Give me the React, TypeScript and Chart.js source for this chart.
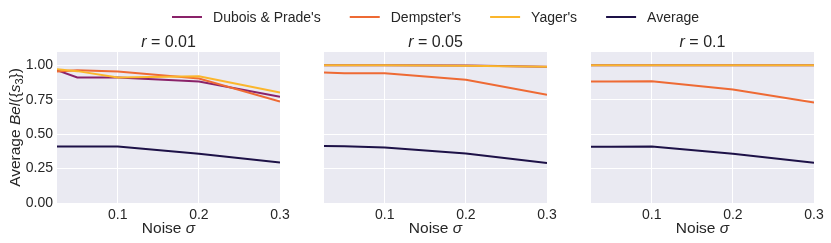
import React, { useEffect, useRef } from 'react';
import { Chart, registerables } from 'chart.js';

Chart.register(...registerables);

// ---- data ----
const noiseLevels = [0.025, 0.05, 0.1, 0.2, 0.3];
const xTickValues = [0.1, 0.2, 0.3];
const yTickValues = [0, 0.25, 0.5, 0.75, 1.0];
const seriesNames = ["Dubois & Prade's", "Dempster's", "Yager's", 'Average'];
const radiusLabels = ['0.01', '0.05', '0.1'];

const duboisR001 = [0.965, 0.912, 0.912, 0.882, 0.772];
const dempsterR001 = [0.955, 0.964, 0.955, 0.905, 0.737];
const yagerR001 = [0.972, 0.958, 0.912, 0.92, 0.802];
const averageR001 = [0.41, 0.41, 0.41, 0.358, 0.295];

const duboisR005 = [1.0, 1.0, 1.0, 0.999, 0.99];
const dempsterR005 = [0.948, 0.942, 0.942, 0.895, 0.787];
const yagerR005 = [1.0, 1.0, 1.0, 0.998, 0.99];
const averageR005 = [0.415, 0.413, 0.404, 0.36, 0.29];

const duboisR01 = [1.0, 1.0, 1.0, 1.0, 1.0];
const dempsterR01 = [0.882, 0.882, 0.884, 0.825, 0.73];
const yagerR01 = [1.0, 1.0, 1.0, 1.0, 1.0];
const averageR01 = [0.408, 0.408, 0.41, 0.358, 0.293];

const panelSeries = [
  [duboisR001, dempsterR001, yagerR001, averageR001],
  [duboisR005, dempsterR005, yagerR005, averageR005],
  [duboisR01, dempsterR01, yagerR01, averageR01],
];

// ---- style ----
const seriesColors = ['#8a2269', '#ee6a34', '#fbb62c', '#1d1147'];
const W = 831;
const H = 243;
const FONT = '"Liberation Sans", Arial, sans-serif';
const TEXT = '#262626';
const BG = '#eaeaf2';
const plotLefts = [57, 324, 591];
const plotWidth = 223;
const plotTop = 52;
const xAxisHeight = 40;
const yAxisWidth = 40;

function drawPieces(ctx: CanvasRenderingContext2D, pieces: { t: string; f: string; dy?: number }[], cx: number, y: number) {
  let total = 0;
  const widths = pieces.map((p) => {
    ctx.font = p.f;
    const w = ctx.measureText(p.t).width;
    total += w;
    return w;
  });
  let x = cx - total / 2;
  pieces.forEach((p, i) => {
    ctx.font = p.f;
    ctx.fillText(p.t, x, y + (p.dy || 0));
    x += widths[i];
  });
}

function makeTextPlugin(idx: number) {
  return {
    id: 'texts' + idx,
    beforeDraw(chart: any) {
      const { ctx, chartArea: ca } = chart;
      ctx.save();
      ctx.fillStyle = BG;
      ctx.fillRect(ca.left, ca.top, ca.right - ca.left, ca.bottom - ca.top);
      ctx.restore();
    },
    afterDraw(chart: any) {
      const { ctx, chartArea: ca } = chart;
      const cx = (ca.left + ca.right) / 2;
      ctx.save();
      ctx.fillStyle = TEXT;
      ctx.textAlign = 'left';
      ctx.textBaseline = 'alphabetic';
      // panel title
      drawPieces(
        ctx,
        [
          { t: 'r', f: `italic 16px ${FONT}` },
          { t: ' = ' + radiusLabels[idx], f: `16px ${FONT}` },
        ],
        cx,
        47
      );
      // x axis title
      drawPieces(
        ctx,
        [
          { t: 'Noise ', f: `15.5px ${FONT}` },
          { t: 'σ', f: `italic 15.5px ${FONT}` },
        ],
        cx,
        233
      );
      if (idx === 0) {
        // y axis title
        ctx.save();
        ctx.translate(20, (ca.top + ca.bottom) / 2);
        ctx.rotate(-Math.PI / 2);
        drawPieces(
          ctx,
          [
            { t: 'Average ', f: `15.5px ${FONT}` },
            { t: 'Bel', f: `italic 15.5px ${FONT}` },
            { t: '({', f: `15.5px ${FONT}` },
            { t: 's', f: `italic 15.5px ${FONT}` },
            { t: '3', f: `11px ${FONT}`, dy: 3 },
            { t: '})', f: `15.5px ${FONT}` },
          ],
          0,
          0
        );
        ctx.restore();
        // legend
        ctx.font = `14px ${FONT}`;
        const lineLen = 30;
        const gapText = 11;
        const gapItem = 29;
        const widths = seriesNames.map((n) => ctx.measureText(n).width);
        const total = widths.reduce((a, w) => a + lineLen + gapText + w, 0) + gapItem * (seriesNames.length - 1);
        const center = (plotLefts[0] + plotLefts[2] + plotWidth) / 2;
        let x = center - total / 2;
        const ly = 17;
        ctx.textBaseline = 'middle';
        seriesNames.forEach((n, i) => {
          ctx.strokeStyle = seriesColors[i];
          ctx.lineWidth = 2;
          ctx.beginPath();
          ctx.moveTo(x, ly);
          ctx.lineTo(x + lineLen, ly);
          ctx.stroke();
          ctx.fillStyle = TEXT;
          ctx.fillText(n, x + lineLen + gapText, ly + 1);
          x += lineLen + gapText + widths[i] + gapItem;
        });
      }
      ctx.restore();
    },
  };
}

function Panel({ idx }: { idx: number }) {
  const ref = useRef<HTMLCanvasElement>(null);
  useEffect(() => {
    if (!ref.current) return;
    const left = plotLefts[idx];
    const showY = idx === 0;
    const chart = new Chart(ref.current, {
      type: 'line',
      data: {
        datasets: seriesNames.map((name, s) => ({
          label: name,
          data: noiseLevels.map((x, k) => ({ x, y: panelSeries[idx][s][k] })),
          borderColor: seriesColors[s],
          backgroundColor: seriesColors[s],
          borderWidth: 2,
          pointRadius: 0,
          tension: 0,
          fill: false,
          order: seriesNames.length - s,
        })),
      },
      options: {
        animation: false,
        responsive: false,
        maintainAspectRatio: false,
        events: [],
        layout: {
          padding: {
            left: showY ? left - yAxisWidth : left,
            right: W - left - plotWidth,
            top: plotTop,
            bottom: 0,
          },
        },
        plugins: {
          legend: { display: false },
          tooltip: { enabled: false },
          title: { display: false },
        },
        scales: {
          x: {
            type: 'linear',
            min: noiseLevels[0],
            max: 0.3,
            afterBuildTicks: (s: any) => {
              s.ticks = xTickValues.map((v) => ({ value: v }));
            },
            afterFit: (s: any) => {
              s.height = xAxisHeight;
            },
            grid: { color: '#ffffff', lineWidth: 1, drawTicks: false },
            border: { display: false },
            ticks: {
              color: TEXT,
              font: { family: FONT, size: 14 },
              padding: 4,
              maxRotation: 0,
              autoSkip: false,
              callback: (v: any) => Number(v).toFixed(1),
            },
          },
          y: {
            type: 'linear',
            min: 0,
            max: 1.097,
            afterBuildTicks: (s: any) => {
              s.ticks = yTickValues.map((v) => ({ value: v }));
            },
            afterFit: (s: any) => {
              s.width = showY ? yAxisWidth : 0;
            },
            grid: { color: '#ffffff', lineWidth: 1, drawTicks: false },
            border: { display: false },
            ticks: {
              display: showY,
              color: TEXT,
              font: { family: FONT, size: 14 },
              padding: 4,
              autoSkip: false,
              callback: (v: any) => Number(v).toFixed(2),
            },
          },
        },
      },
      plugins: [makeTextPlugin(idx)],
    } as any);
    return () => chart.destroy();
  }, [idx]);
  return (
    <canvas
      ref={ref}
      width={W}
      height={H}
      style={{ position: 'absolute', left: 0, top: 0, width: W, height: H }}
    />
  );
}

export default function App() {
  return (
    <div style={{ position: 'absolute', left: 0, top: 0, width: W, height: H, background: '#ffffff' }}>
      <Panel idx={0} />
      <Panel idx={1} />
      <Panel idx={2} />
    </div>
  );
}
